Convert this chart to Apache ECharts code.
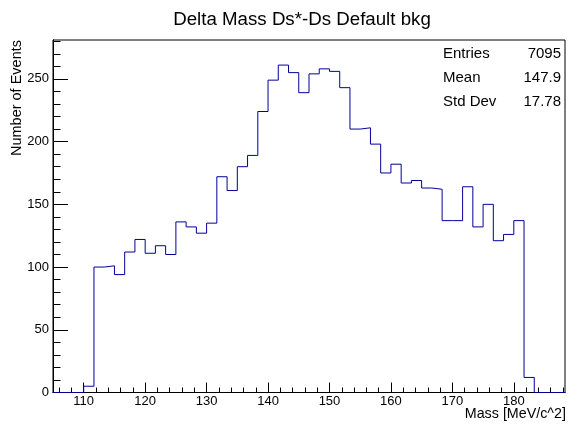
<!DOCTYPE html>
<html>
<head>
<meta charset="utf-8">
<script src="https://cdn.jsdelivr.net/npm/echarts@6/dist/echarts.min.js"></script>
<style>html,body{margin:0;padding:0;background:#fff}#c{width:569px;height:428px}</style>
</head>
<body>
<div id="c"></div>
<script>
// Histogram definition
const binStart = 105;
const binWidth = 5 / 3;
const counts = [0, 0, 0,
  5, 100, 101, 94, 112, 122, 111, 117, 110, 136, 132, 127, 135, 172, 161,
  180, 189, 224, 249, 261, 255, 239, 254, 258, 256, 243, 210, 211, 198,
  175, 182, 167, 169, 163, 162, 137, 137, 164, 132, 150, 121, 126, 137, 12,
  0, 0, 0];
const xMajorTicks = [110, 120, 130, 140, 150, 160, 170, 180];
const xMinorTicks = [106, 108, 112, 114, 116, 118, 122, 124, 126, 128, 132, 134, 136, 138, 142, 144, 146, 148, 152, 154, 156, 158, 162, 164, 166, 168, 172, 174, 176, 178, 182, 184, 186, 188];
const yMajorTicks = [0, 50, 100, 150, 200, 250];
const yMinorTicks = [10, 20, 30, 40, 60, 70, 80, 90, 110, 120, 130, 140, 160, 170, 180, 190, 210, 220, 230, 240, 260, 270, 280];
const statsLabels = ['Entries', 'Mean', 'Std Dev'];
const statsValues = ['7095', '147.9', '17.78'];
const titleText = 'Delta Mass Ds*-Ds Default bkg';
const xTitle = 'Mass [MeV/c^2]';
const yTitle = 'Number of Events';

const xMin = binStart, xMax = binStart + counts.length * binWidth;
const yMin = 0, yMax = 281;

const pts = counts.map((v, i) => [binStart + i * binWidth, v]);
pts.push([xMax, counts[counts.length - 1]]);

const FONT = '"Liberation Sans", Arial, Helvetica, sans-serif';
const chart = echarts.init(document.getElementById('c'), null, {renderer: 'canvas'});

const gridL = 53, gridR = 4, gridT = 40, gridB = 35.5;

function xAx(ticks, len, showLabel) {
  return {
    type: 'value', min: xMin, max: xMax, position: 'bottom',
    axisLine: {show: true, onZero: false, lineStyle: {color: '#000', width: 1}},
    axisTick: {show: true, inside: true, length: len, customValues: ticks, lineStyle: {color: '#000'}},
    axisLabel: {show: showLabel, customValues: ticks, color: '#000', fontSize: 13, fontFamily: FONT, margin: 2},
    splitLine: {show: false}
  };
}
function yAx(ticks, len, showLabel) {
  return {
    type: 'value', min: yMin, max: yMax, position: 'left',
    axisLine: {show: true, onZero: false, lineStyle: {color: '#000', width: 1}},
    axisTick: {show: true, inside: true, length: len, customValues: ticks, lineStyle: {color: '#000'}},
    axisLabel: {show: showLabel, customValues: ticks, color: '#000', fontSize: 13, fontFamily: FONT, margin: 4},
    splitLine: {show: false}
  };
}

const graphics = [
  {type: 'text', x: 17, y: gridT, rotation: Math.PI / 2,
   style: {text: yTitle, font: '14.5px ' + FONT, fill: '#000', align: 'right', verticalAlign: 'middle'}},
  {type: 'text', x: 566, y: 414,
   style: {text: xTitle, font: '14.3px ' + FONT, fill: '#000', align: 'right', verticalAlign: 'middle'}},
  {type: 'text', x: 302, y: 20,
   style: {text: titleText, font: '18.7px ' + FONT, fill: '#000', align: 'center', verticalAlign: 'middle'}}
];
const rowY = [54, 78, 101.5];
statsLabels.forEach((s, i) => {
  graphics.push({type: 'text', x: 443, y: rowY[i], style: {text: s, font: '15px ' + FONT, fill: '#000', align: 'left', verticalAlign: 'middle'}});
  graphics.push({type: 'text', x: 561, y: rowY[i], style: {text: statsValues[i], font: '15px ' + FONT, fill: '#000', align: 'right', verticalAlign: 'middle'}});
});

chart.setOption({
  animation: false,
  backgroundColor: '#fff',
  grid: {left: gridL, right: gridR, top: gridT, bottom: gridB, show: true, borderColor: '#000', borderWidth: 1, backgroundColor: 'transparent', outerBoundsMode: 'none'},
  xAxis: [xAx(xMajorTicks, 10, true), xAx(xMinorTicks, 5, false)],
  yAxis: [yAx(yMajorTicks, 15, true), yAx(yMinorTicks, 7.5, false)],
  series: [{
    type: 'line', step: 'end', data: pts, xAxisIndex: 0, yAxisIndex: 0,
    symbol: 'none', lineStyle: {color: '#000099', width: 1}, clip: true
  }],
  graphic: graphics
});
</script>
</body>
</html>
